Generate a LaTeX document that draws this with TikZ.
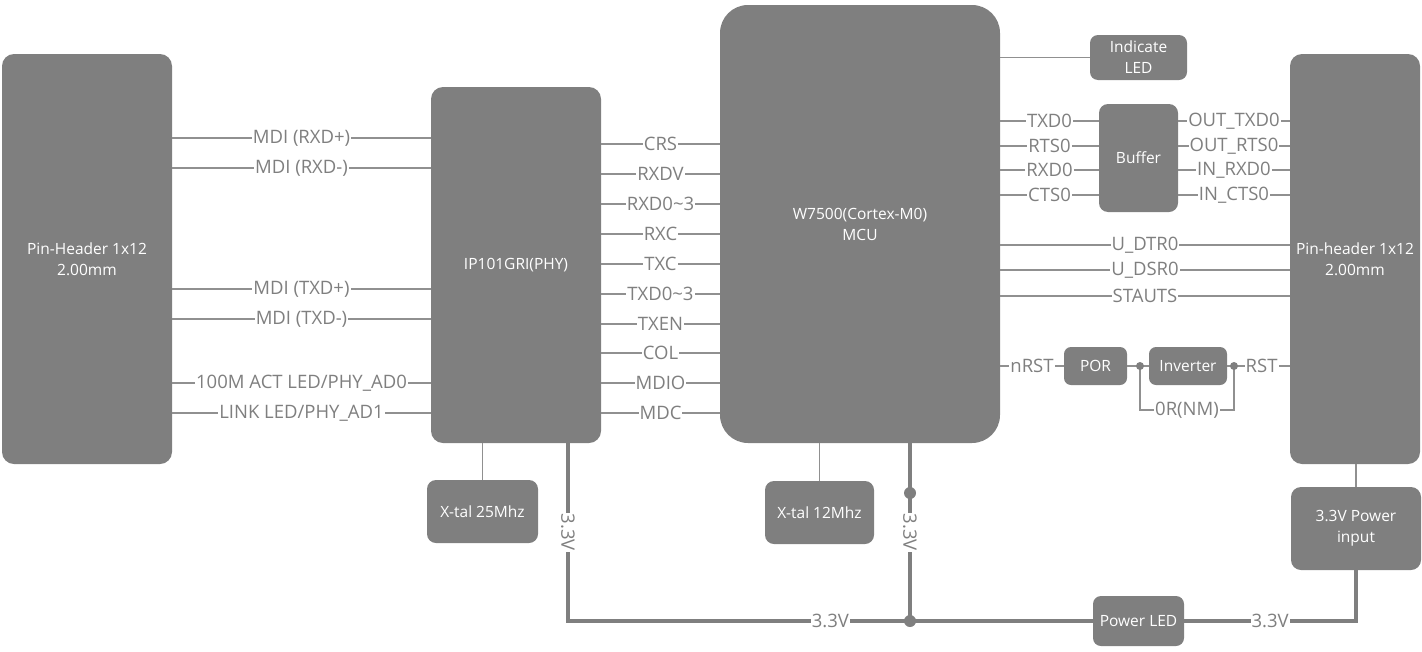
\documentclass[tikz,border=0pt]{standalone}
\usepackage{fontspec}
\setmainfont{Open Sans}
\definecolor{boxgray}{HTML}{7F7F7F}
\definecolor{linegray}{HTML}{909090}
\tikzset{
  blk/.style={fill=boxgray, text=white, rounded corners=12pt, inner sep=0pt,
    align=center, font=\fontsize{15.5}{21}\selectfont},
  sig/.style={draw=linegray, line width=1.5pt},
  pwr/.style={draw=boxgray, line width=4pt},
  lbl/.style={fill=white, text=boxgray, inner sep=1pt, font=\fontsize{18.5}{20}\selectfont},
  vlbl/.style={lbl, rotate=-90},
  dot/.style={fill=boxgray}
}
\begin{document}
\begin{tikzpicture}[x=1pt,y=-1pt]
\useasboundingbox (0,0) rectangle (1422,651);
\node[blk, minimum width=170pt, minimum height=410pt] (lh) at (87,259) {Pin-Header 1x12\\2.00mm};
\node[blk, minimum width=170pt, minimum height=356pt] (phy) at (516,265) {IP101GRI(PHY)};
\node[blk, minimum width=280pt, minimum height=438pt, rounded corners=28pt] (mcu) at (860,224) {W7500(Cortex-M0)\\MCU};
\node[blk, minimum width=130pt, minimum height=410pt] (rh) at (1355,259) {Pin-header 1x12\\2.00mm};
\node[blk, minimum width=97pt, minimum height=45pt, rounded corners=8pt] (led) at (1138.5,57.5) {Indicate\\LED};
\node[blk, minimum width=79pt, minimum height=108pt, rounded corners=9pt] (buf) at (1138.5,158) {Buffer};
\node[blk, minimum width=63pt, minimum height=38pt, rounded corners=7pt] (por) at (1095.5,366) {POR};
\node[blk, minimum width=78pt, minimum height=38pt, rounded corners=7pt] (inv) at (1188,366) {Inverter};
\node[blk, minimum width=111pt, minimum height=63pt, rounded corners=9pt] (xa) at (482.5,511.5) {X-tal 25Mhz};
\node[blk, minimum width=109pt, minimum height=63pt, rounded corners=9pt] (xb) at (819.5,512.5) {X-tal 12Mhz};
\node[blk, minimum width=130pt, minimum height=83pt, rounded corners=10pt] (pin) at (1356,528.5) {3.3V Power\\input};
\node[blk, minimum width=91pt, minimum height=50pt, rounded corners=8pt] (pled) at (1138.5,621) {Power LED};
\coordinate (d1) at (1140,366);
\coordinate (d2) at (1234,366);
\coordinate (c1) at (568,621);
\coordinate (c2) at (910,621);
\coordinate (c3) at (1356,621);
\coordinate (c4) at (910,493);

\foreach \y/\t in {138/MDI (RXD+), 168/MDI (RXD-), 289/MDI (TXD+), 319/MDI (TXD-),
    383/{100M ACT LED/PHY\_AD0}, 413/{LINK LED/PHY\_AD1}}
  \draw[sig] (lh.east |- 0,\y) -- node[lbl]{\t} (phy.west |- 0,\y);
\foreach \y/\t in {144/CRS, 174/RXDV, 204/RXD0\textasciitilde3, 234/RXC, 264/TXC,
    294/TXD0\textasciitilde3, 324/TXEN, 353/COL, 383/MDIO, 413/MDC}
  \draw[sig] (phy.east |- 0,\y) -- node[lbl]{\t} (mcu.west |- 0,\y);
\foreach \y/\a/\b in {121/TXD0/OUT\_TXD0, 146/RTS0/OUT\_RTS0, 170/RXD0/IN\_RXD0, 195/CTS0/IN\_CTS0} {
  \draw[sig] (mcu.east |- 0,\y) -- node[lbl]{\a} (buf.west |- 0,\y);
  \draw[sig] (buf.east |- 0,\y) -- node[lbl]{\b} (rh.west |- 0,\y);
}
\foreach \y/\t in {245/U\_DTR0, 270/U\_DSR0, 296/STAUTS}
  \draw[sig] (mcu.east |- 0,\y) -- node[lbl]{\t} (rh.west |- 0,\y);
\draw[sig] (mcu.east |- led.west) -- (led.west);
\draw[sig] (mcu.east |- por.west) -- node[lbl]{nRST} (por.west);
\draw[sig] (por.east) -- (inv.west);
\draw[sig] (inv.east) -- node[lbl, pos=0.55]{RST} (rh.west |- inv.east);
\draw[sig] (d1) -- ++(0,44) -| node[lbl, pos=0.25]{0R(NM)} (d2);
\fill[dot] (d1) circle (4pt) (d2) circle (4pt);
\draw[sig] (phy.south -| xa.north) -- (xa.north);
\draw[sig] (mcu.south -| xb.north) -- (xb.north);
\draw[sig] (rh.south -| pin.north) -- (pin.north);

\draw[pwr] (phy.south -| c1) -- node[vlbl]{3.3V} (c1) -- node[lbl]{3.3V} (pled.west);
\draw[pwr] (mcu.south -| c2) -- node[vlbl]{3.3V} (c2);
\draw[pwr] (pled.east) -- node[lbl]{3.3V} (c3) -- (pin.south);
\fill[dot] (c4) circle (6pt) (c2) circle (6pt);
\end{tikzpicture}
\end{document}
